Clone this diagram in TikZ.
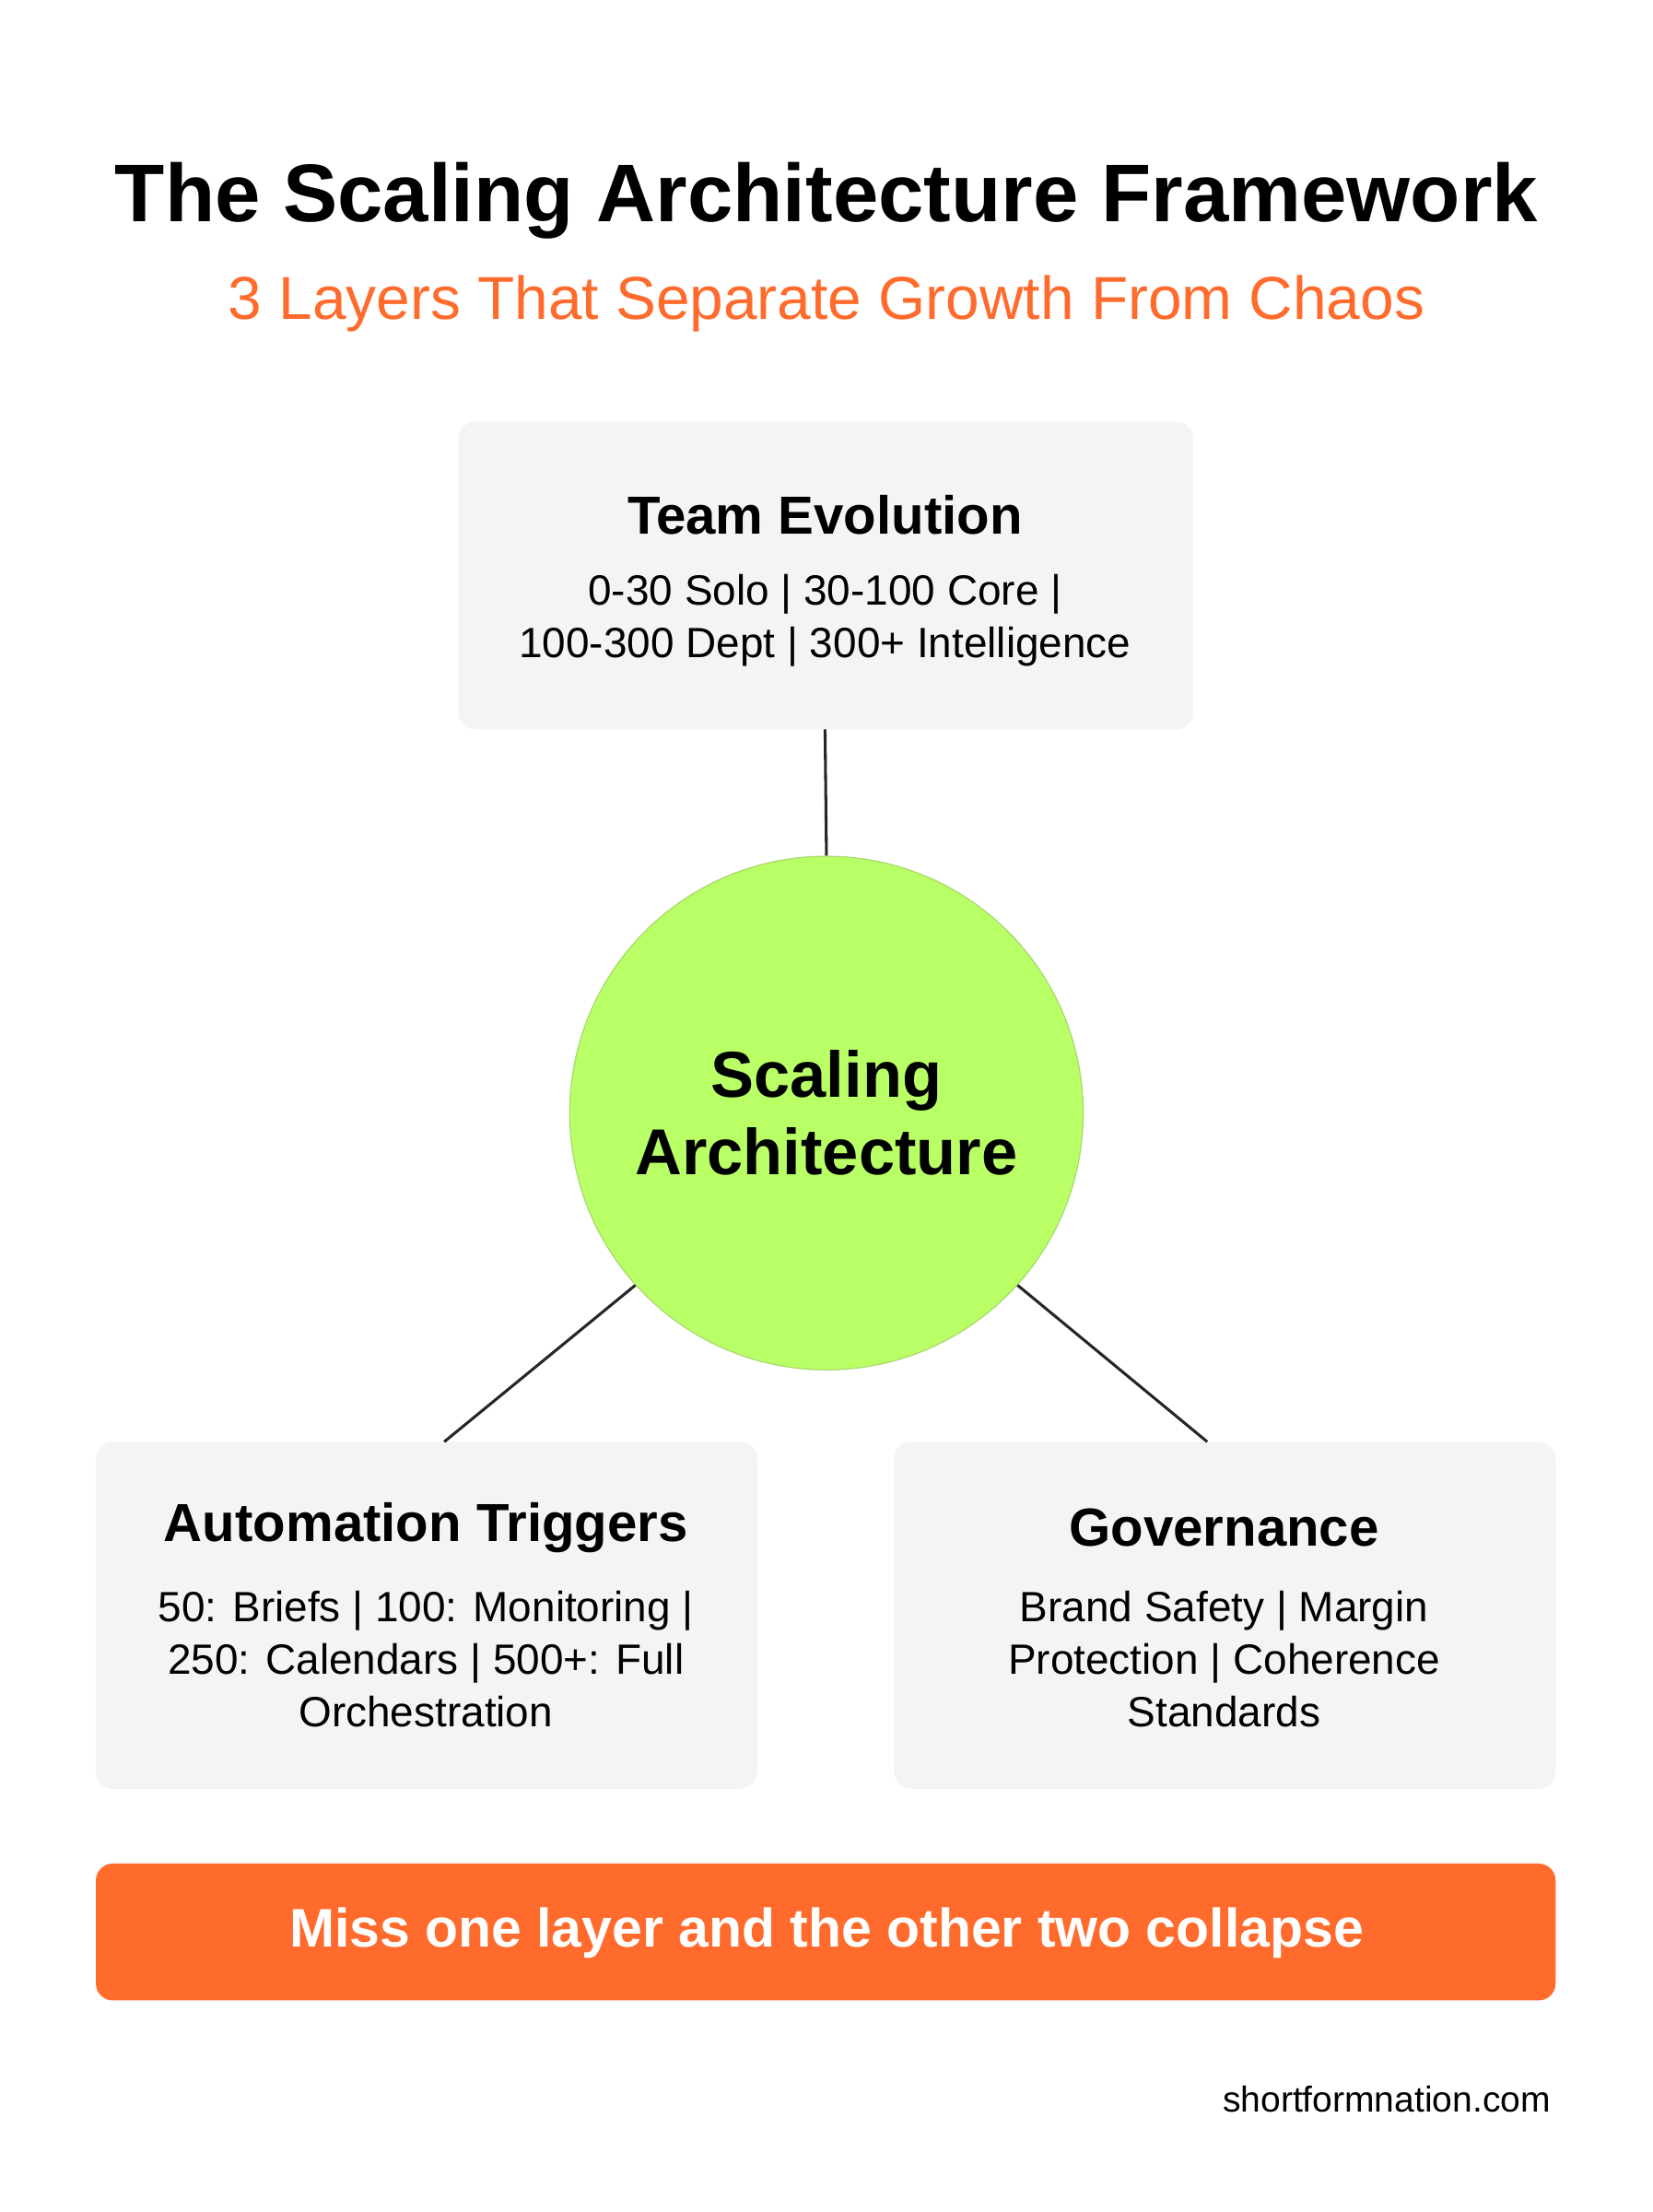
\documentclass[tikz,border=0pt]{standalone}
\usepackage{fontspec}
\setmainfont{Liberation Sans}
\usetikzlibrary{calc}
\definecolor{orng}{HTML}{FF6B2C}
\definecolor{boxg}{HTML}{F4F4F4}
\definecolor{lime}{HTML}{B9FF66}
\tikzset{
 card/.style={fill=boxg,rounded corners=12pt,draw=none},
 hd/.style={font=\bfseries\fontsize{38}{44}\selectfont},
 bd/.style={font=\fontsize{30}{37}\selectfont,align=center},
 link/.style={line width=2pt,black!85}
}
\begin{document}
\begin{tikzpicture}[x=1pt,y=-1pt]
\useasboundingbox[fill=white] (0,0) rectangle (1172,1568);
\node[font=\bfseries\fontsize{58}{64}\selectfont] (title) at (586,142) {The Scaling Architecture Framework};
\node[font=\fontsize{43}{48}\selectfont,text=orng] (sub) at (586,215) {3 Layers That Separate Growth From Chaos};
\draw[card] (325,299) rectangle (846,517);
\coordinate (tb) at (585,517);
\node[hd] (th) at (585,365) {Team Evolution};
\node[bd] (tt) at (585,440) {0-30 Solo | 30-100 Core |\\100-300 Dept | 300+ Intelligence};
\draw[card] (68,1022) rectangle (537,1268);
\coordinate (lb) at (315,1022);
\node[hd] (lh) at (302,1083) {Automation Triggers};
\node[bd] (lt) at (302,1176) {50: Briefs | 100: Monitoring |\\250: Calendars | 500+: Full\\Orchestration};
\draw[card] (634,1022) rectangle (1103,1268);
\coordinate (rb) at (856,1022);
\node[hd] (rh) at (868,1083) {Governance};
\node[bd] (rt) at (868,1176) {Brand Safety | Margin\\Protection | Coherence\\Standards};
\node[circle,fill=lime,draw=lime!70!gray,line width=0.8pt,minimum size=364pt,inner sep=0pt,align=center,font=\bfseries\fontsize{46}{55}\selectfont] (c) at (586,789) {Scaling\\Architecture};
\draw[link] (tb) -- (c.north);
\draw[link] (c.222) -- (lb);
\draw[link] (c.318) -- (rb);
\fill[orng,rounded corners=12pt] (68,1321) rectangle (1103,1418);
\node[text=white,font=\bfseries\fontsize{38.5}{44}\selectfont] (bar) at (586,1370) {Miss one layer and the other two collapse};
\node[anchor=east,font=\fontsize{25.5}{30}\selectfont] (foot) at (1103,1488) {shortformnation.com};
\end{tikzpicture}
\end{document}
